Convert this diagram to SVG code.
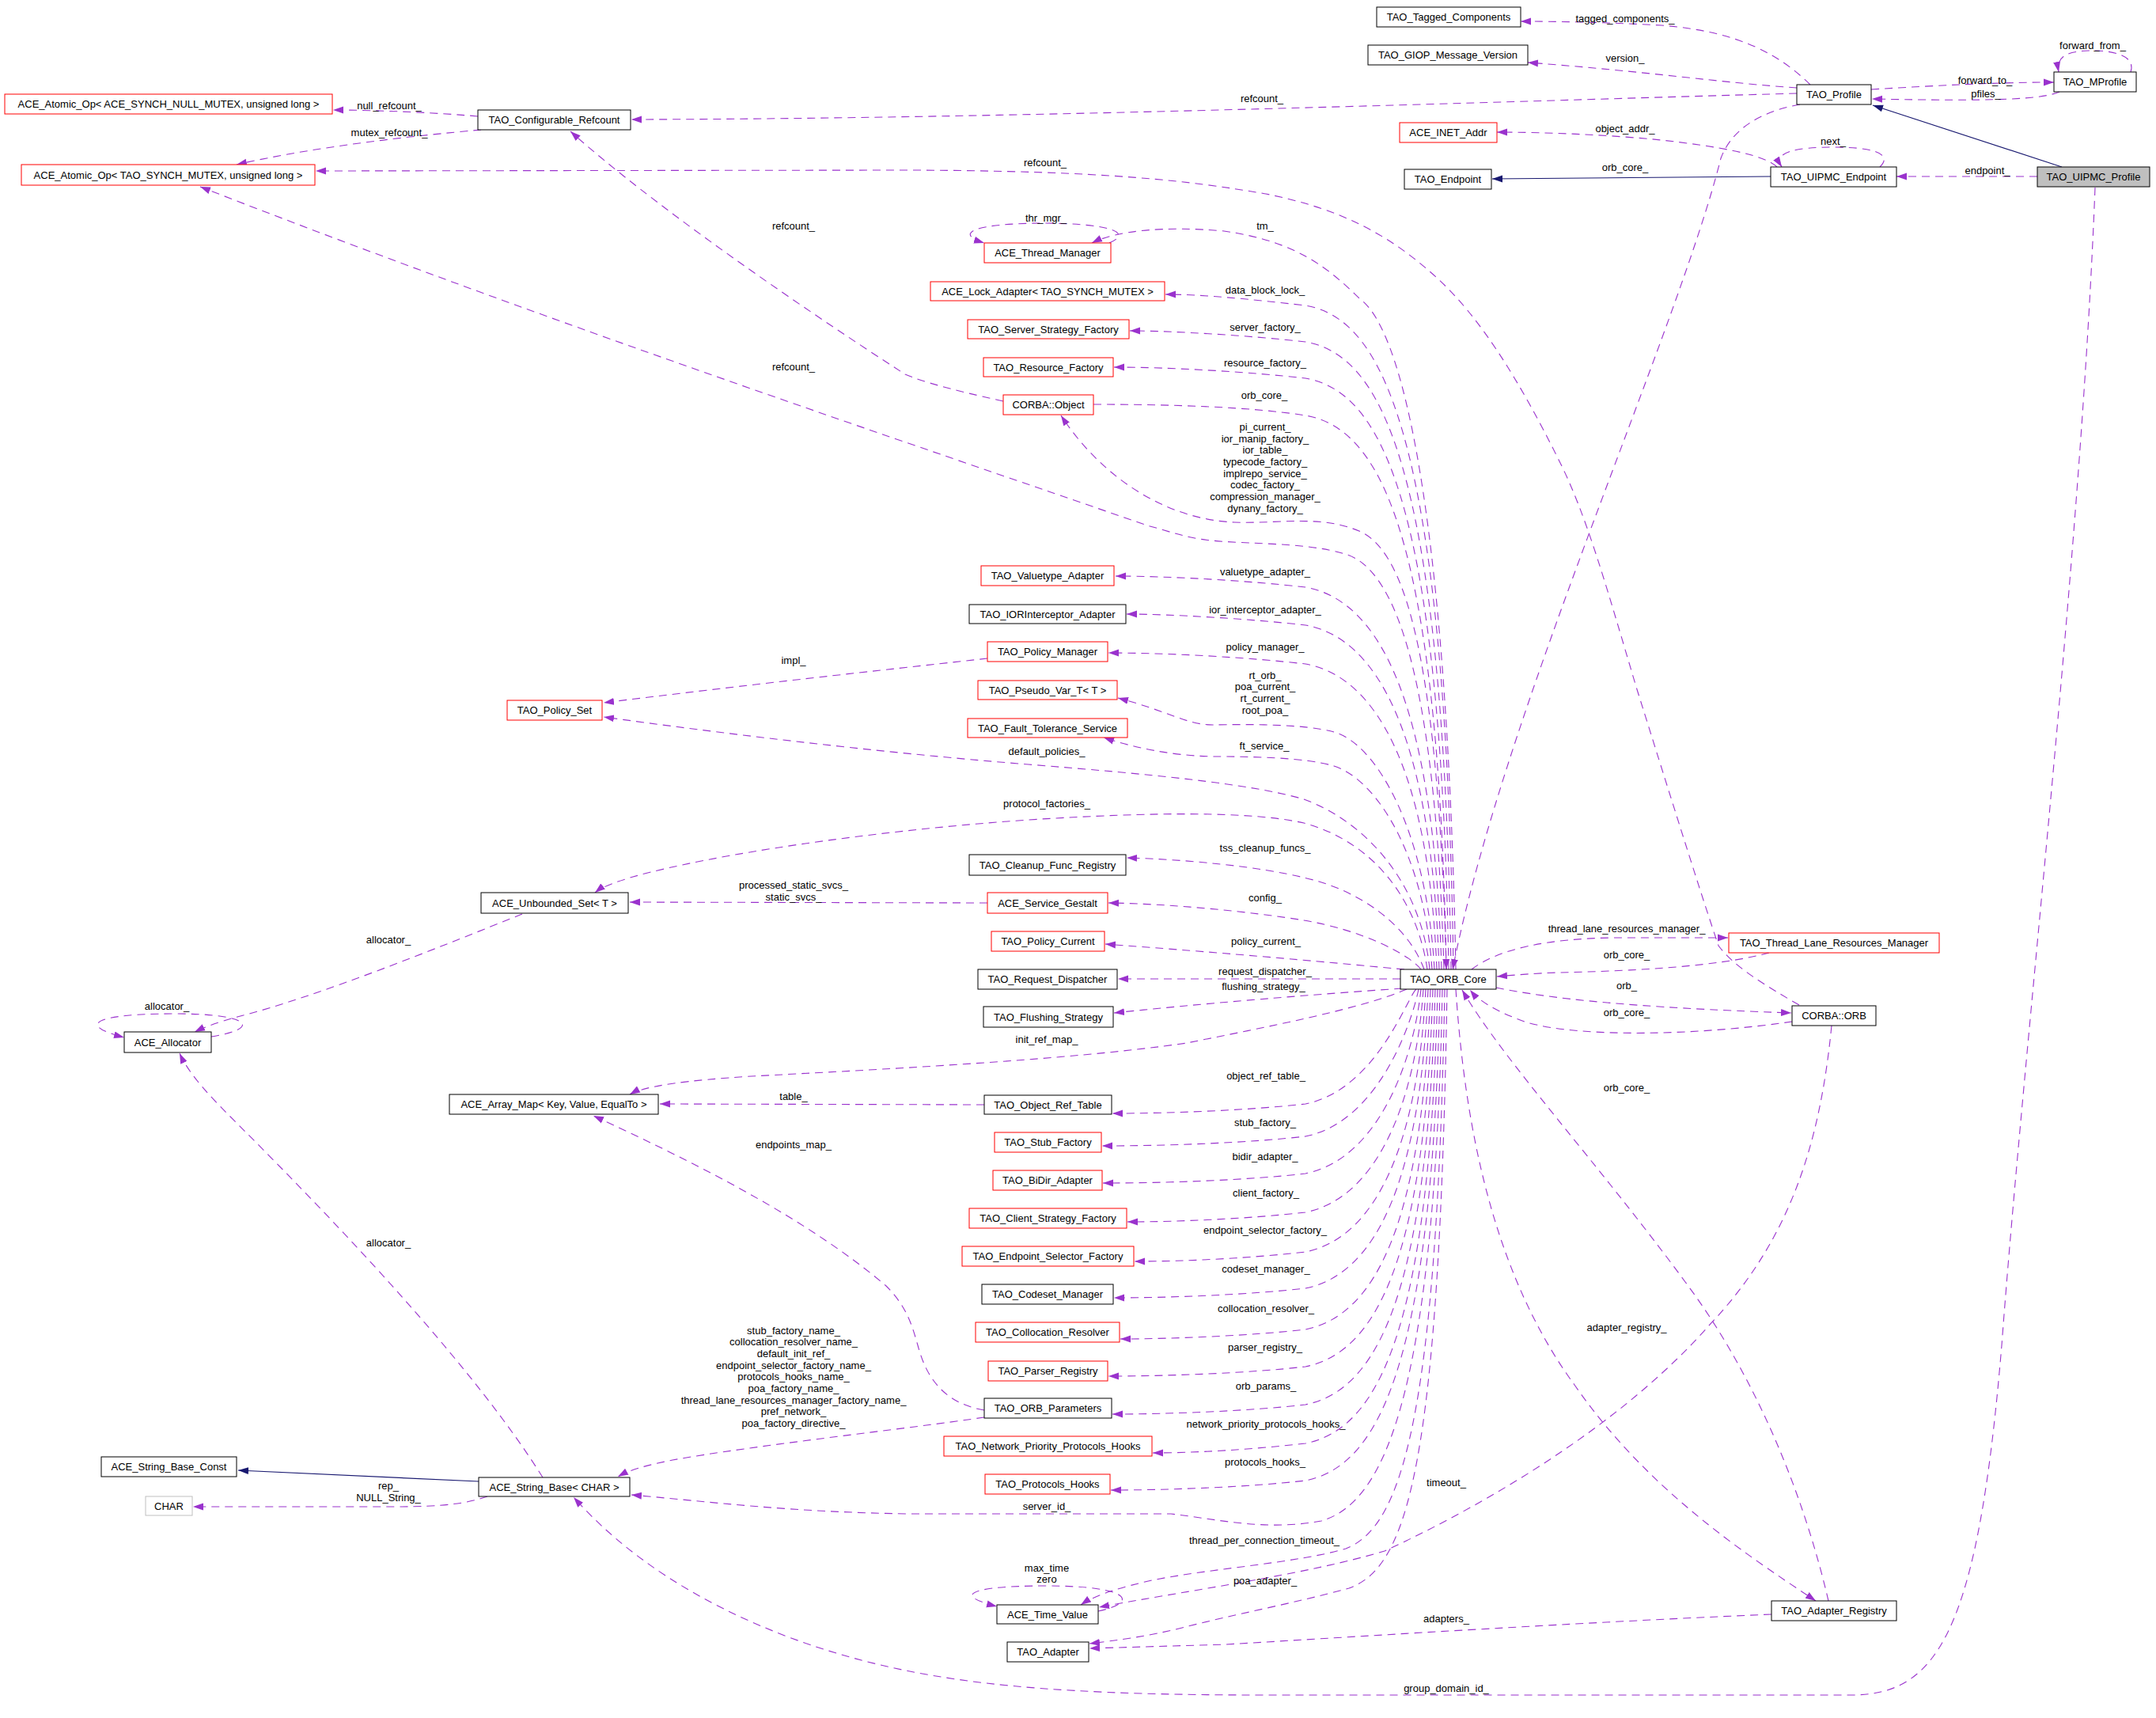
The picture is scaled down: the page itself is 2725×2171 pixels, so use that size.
<svg xmlns="http://www.w3.org/2000/svg" width="2725" height="2171" viewBox="0 0 2725 2171">
<style>
text{font-family:"Liberation Sans",Arial,sans-serif;font-size:13px;fill:#000}
.node text{text-anchor:middle}
.lbl text{text-anchor:middle}
rect{fill:#fff;stroke:#000;stroke-width:1}
rect.red{stroke:#ff0000}
rect.grayfill{fill:#bfbfbf}
rect.grayline{stroke:#bfbfbf}
.e{fill:none;stroke:#9a32cd;stroke-width:1.1;stroke-dasharray:10,7;marker-end:url(#ap)}
.i{fill:none;stroke:#191970;stroke-width:1.2;marker-end:url(#an)}
</style>
<defs>
<marker id="ap" markerUnits="userSpaceOnUse" markerWidth="13" markerHeight="10" refX="13" refY="5" orient="auto"><path d="M0,0.5 L13,5 L0,9.5 z" fill="#9a32cd"/></marker>
<marker id="an" markerUnits="userSpaceOnUse" markerWidth="13" markerHeight="10" refX="13" refY="5" orient="auto"><path d="M0,0.5 L13,5 L0,9.5 z" fill="#191970"/></marker>
</defs>
<rect x="0" y="0" width="2725" height="2171" style="fill:#fff;stroke:none"/>

<g id="connectors">
<path class="i" d="M2606,211 L2367,133"/>
<path class="i" d="M2238,223 L1886,226"/>
<path class="i" d="M605,1872 L301,1858"/>
<path class="e" d="M2288,107 C2250,70 2200,40 2100,32 C2030,28 1960,27 1922,27"/>
<path class="e" d="M2271,111 C2180,105 2080,90 1931,79"/>
<path class="e" d="M2271,118 C1900,128 1300,150 798,151"/>
<path class="e" d="M2365,113 C2450,108 2520,104 2596,104"/>
<path class="e" d="M2603,116 C2580,126 2520,128 2366,125"/>
<path class="e" d="M2693,91 C2700,70 2670,64 2645,64 C2615,64 2598,70 2602,91"/>
<path class="e" d="M2575,223 L2397,223"/>
<path class="e" d="M2376,211 C2395,192 2360,186 2318,186 C2270,186 2240,192 2252,211"/>
<path class="e" d="M2246,211 C2230,195 2170,185 2100,177 C2030,170 1950,167 1892,167"/>
<path class="e" d="M2275,132 C2230,140 2190,160 2175,200 C2120,420 1900,900 1836,1225"/>
<path class="e" d="M604,147 C560,143 480,139 421,139"/>
<path class="e" d="M608,164 C520,172 400,185 299,208"/>
<path class="e" d="M2274,1270 C2230,1245 2190,1220 2172,1195 C2150,1130 2125,1050 2068,868 C2030,740 2005,650 1970,581 C1920,480 1870,400 1816,351 C1760,300 1700,265 1600,245 C1500,228 1400,216 1150,215 L399,216"/>
<path class="e" d="M1268,507 C1200,492 1165,482 1144,473 C1000,380 820,255 721,166"/>
<path class="e" d="M1825,1225 C1815,880 1770,720 1700,700 C1650,685 1580,688 1531,683 C1500,680 1480,672 1450,664 C1150,560 700,410 253,236"/>
<path class="e" d="M1402,307 C1430,295 1410,283 1322,282 C1230,282 1205,295 1244,307"/>
<path class="e" d="M1840,1225 C1830,700 1780,420 1718,377 C1680,340 1640,305 1547,292 C1470,285 1410,292 1380,307"/>
<path class="e" d="M1837,1225 C1827,522 1740,402 1650,386 C1580,378 1520,372 1473,372"/>
<path class="e" d="M1834,1225 C1824,568 1740,448 1650,432 C1580,424 1480,418 1428,418"/>
<path class="e" d="M1831,1225 C1821,614 1740,494 1650,478 C1580,470 1480,464 1408,464"/>
<path class="e" d="M1382,511 C1480,511 1580,514 1650,525 C1740,541 1818,660 1828,1225"/>
<path class="e" d="M1828,1225 C1818,850 1780,700 1720,672 C1670,650 1620,662 1560,660 C1470,656 1390,600 1341,525"/>
<path class="e" d="M1822,1225 C1812,878 1740,758 1650,742 C1580,734 1480,728 1410,728"/>
<path class="e" d="M1819,1225 C1809,926 1740,806 1650,790 C1580,782 1480,776 1424,776"/>
<path class="e" d="M1816,1225 C1806,975 1740,855 1650,839 C1580,831 1480,825 1401,825"/>
<path class="e" d="M1248,832 C1150,843 990,860 763,888"/>
<path class="e" d="M1813,1225 C1803,1050 1740,940 1686,925 C1650,915 1580,915 1533,916 C1500,916 1480,900 1413,882"/>
<path class="e" d="M1810,1225 C1800,1080 1740,985 1686,968 C1650,957 1580,956 1533,956 C1480,955 1430,944 1395,932"/>
<path class="e" d="M1807,1225 C1797,1120 1730,1040 1648,1010 C1580,990 1450,978 1300,966 C1100,950 900,925 763,906"/>
<path class="e" d="M1804,1225 C1790,1130 1730,1062 1648,1040 C1580,1025 1460,1026 1300,1036 C1100,1050 900,1080 800,1108 C780,1114 762,1120 752,1128"/>
<path class="e" d="M1800,1225 C1780,1170 1720,1125 1648,1109 C1590,1095 1500,1086 1424,1084"/>
<path class="e" d="M1248,1141 L796,1140"/>
<path class="e" d="M1796,1225 C1780,1205 1720,1175 1648,1163 C1580,1152 1480,1142 1401,1141"/>
<path class="e" d="M1775,1225 C1720,1220 1600,1208 1397,1193"/>
<path class="e" d="M660,1155 C560,1195 400,1260 300,1285 C275,1292 258,1298 246,1304"/>
<path class="e" d="M267,1310 C330,1300 320,1281 220,1281 C120,1281 95,1295 157,1311"/>
<path class="e" d="M1770,1237 L1413,1237"/>
<path class="e" d="M1772,1249 C1700,1254 1550,1265 1408,1280"/>
<path class="e" d="M1778,1250 C1720,1275 1600,1298 1500,1318 C1350,1340 1100,1352 950,1360 C870,1365 815,1372 796,1383"/>
<path class="e" d="M1790,1250 C1780,1257 1740,1377 1650,1395 C1580,1403 1480,1407 1406,1407"/>
<path class="e" d="M1244,1396 L834,1395"/>
<path class="e" d="M1793,1250 C1783,1298 1740,1418 1650,1436 C1580,1444 1480,1448 1393,1448"/>
<path class="e" d="M1796,1250 C1786,1345 1740,1465 1650,1483 C1580,1491 1480,1495 1394,1495"/>
<path class="e" d="M1799,1250 C1789,1394 1740,1514 1650,1532 C1580,1540 1490,1544 1425,1544"/>
<path class="e" d="M1244,1782 C1185,1772 1168,1730 1160,1700 C1152,1672 1145,1650 1120,1625 C1020,1540 880,1470 750,1410"/>
<path class="e" d="M1802,1250 C1792,1444 1740,1564 1650,1582 C1580,1590 1500,1594 1434,1594"/>
<path class="e" d="M1805,1250 C1795,1490 1740,1610 1650,1628 C1580,1636 1480,1640 1408,1640"/>
<path class="e" d="M1808,1250 C1798,1542 1740,1662 1650,1680 C1580,1688 1480,1692 1416,1692"/>
<path class="e" d="M1811,1250 C1801,1589 1740,1709 1650,1727 C1580,1735 1480,1739 1401,1739"/>
<path class="e" d="M1814,1250 C1804,1637 1740,1757 1650,1775 C1580,1783 1480,1787 1406,1787"/>
<path class="e" d="M1244,1791 C1150,1805 950,1827 850,1845 C815,1852 795,1858 781,1866"/>
<path class="e" d="M1817,1250 C1807,1686 1740,1806 1650,1824 C1580,1832 1510,1836 1457,1836"/>
<path class="e" d="M1820,1250 C1810,1733 1740,1853 1650,1871 C1580,1879 1480,1883 1404,1883"/>
<path class="e" d="M1823,1250 C1813,1780 1745,1900 1670,1922 C1600,1935 1540,1920 1480,1913 L1150,1913 C1000,1911 900,1898 798,1889"/>
<path class="e" d="M686,1867 C600,1730 440,1560 300,1420 C270,1390 240,1360 227,1331"/>
<path class="e" d="M616,1891 C590,1900 560,1904 500,1904 L244,1904"/>
<path class="e" d="M1826,1250 C1816,1800 1770,1930 1701,1957 C1640,1975 1530,1982 1456,1997 C1420,2005 1385,2015 1366,2028"/>
<path class="e" d="M1388,2036 C1440,2025 1430,2004 1322,2004 C1230,2004 1200,2015 1260,2030"/>
<path class="e" d="M1829,1250 C1819,1850 1780,1980 1705,2007 C1640,2025 1560,2040 1494,2057 C1450,2068 1410,2073 1377,2077"/>
<path class="e" d="M2239,2040 C2000,2050 1750,2066 1550,2078 L1377,2083"/>
<path class="e" d="M2648,237 C2630,700 2560,1300 2530,1700 C2500,2060 2450,2142 2340,2142 L1600,2142 C1300,2142 1150,2125 1000,2070 C880,2025 790,1965 725,1892"/>
<path class="e" d="M2315,1296 C2300,1450 2260,1570 2160,1675 C2050,1800 1880,1900 1750,1960 C1650,1990 1500,2010 1389,2031"/>
<path class="e" d="M1860,1225 C1895,1198 1960,1186 2040,1185 L2184,1185"/>
<path class="e" d="M2236,1204 C2170,1222 2060,1227 1970,1229 C1940,1230 1915,1232 1892,1234"/>
<path class="e" d="M1891,1248 C1960,1262 2060,1273 2264,1280"/>
<path class="e" d="M2265,1291 C2150,1308 2000,1312 1930,1292 C1895,1280 1870,1266 1858,1251"/>
<path class="e" d="M2311,2023 C2280,1890 2220,1740 2130,1620 C2020,1470 1900,1340 1848,1251"/>
<path class="e" d="M1840,1250 C1850,1400 1880,1600 1990,1750 C2080,1880 2200,1960 2295,2023"/>
</g>

<g id="edge-labels" class="lbl">
<text x="2054" y="28">tagged_components_</text>
<text x="2054" y="78">version_</text>
<text x="1595" y="129">refcount_</text>
<text x="2509" y="106">forward_to_</text>
<text x="2510" y="123">pfiles_</text>
<text x="2645" y="62">forward_from_</text>
<text x="2054" y="167">object_addr_</text>
<text x="2317" y="183">next_</text>
<text x="2054" y="216">orb_core_</text>
<text x="2512" y="220">endpoint_</text>
<text x="492" y="138">null_refcount_</text>
<text x="492" y="172">mutex_refcount_</text>
<text x="1321" y="210">refcount_</text>
<text x="1003" y="290">refcount_</text>
<text x="1003" y="468">refcount_</text>
<text x="1322" y="280">thr_mgr_</text>
<text x="1599" y="290">tm_</text>
<text x="1599" y="371">data_block_lock_</text>
<text x="1599" y="418">server_factory_</text>
<text x="1599" y="463">resource_factory_</text>
<text x="1598" y="504">orb_core_</text>
<text x="1599" y="544">pi_current_</text>
<text x="1599" y="559">ior_manip_factory_</text>
<text x="1599" y="573">ior_table_</text>
<text x="1599" y="588">typecode_factory_</text>
<text x="1599" y="603">implrepo_service_</text>
<text x="1599" y="617">codec_factory_</text>
<text x="1599" y="632">compression_manager_</text>
<text x="1599" y="647">dynany_factory_</text>
<text x="1599" y="727">valuetype_adapter_</text>
<text x="1599" y="775">ior_interceptor_adapter_</text>
<text x="1599" y="822">policy_manager_</text>
<text x="1003" y="839">impl_</text>
<text x="1599" y="858">rt_orb_</text>
<text x="1599" y="872">poa_current_</text>
<text x="1599" y="887">rt_current_</text>
<text x="1599" y="902">root_poa_</text>
<text x="1598" y="947">ft_service_</text>
<text x="1323" y="954">default_policies_</text>
<text x="1323" y="1020">protocol_factories_</text>
<text x="1599" y="1076">tss_cleanup_funcs_</text>
<text x="1003" y="1123">processed_static_svcs_</text>
<text x="1003" y="1138">static_svcs_</text>
<text x="1599" y="1139">config_</text>
<text x="1600" y="1194">policy_current_</text>
<text x="491" y="1192">allocator_</text>
<text x="211" y="1276">allocator_</text>
<text x="1599" y="1232">request_dispatcher_</text>
<text x="1597" y="1251">flushing_strategy_</text>
<text x="2056" y="1178">thread_lane_resources_manager_</text>
<text x="2056" y="1211">orb_core_</text>
<text x="2056" y="1250">orb_</text>
<text x="2056" y="1284">orb_core_</text>
<text x="1323" y="1318">init_ref_map_</text>
<text x="1600" y="1364">object_ref_table_</text>
<text x="2056" y="1379">orb_core_</text>
<text x="1003" y="1390">table_</text>
<text x="1599" y="1423">stub_factory_</text>
<text x="1003" y="1451">endpoints_map_</text>
<text x="1599" y="1466">bidir_adapter_</text>
<text x="1600" y="1512">client_factory_</text>
<text x="1599" y="1559">endpoint_selector_factory_</text>
<text x="491" y="1575">allocator_</text>
<text x="1600" y="1608">codeset_manager_</text>
<text x="1600" y="1658">collocation_resolver_</text>
<text x="2056" y="1682">adapter_registry_</text>
<text x="1003" y="1686">stub_factory_name_</text>
<text x="1003" y="1700">collocation_resolver_name_</text>
<text x="1003" y="1715">default_init_ref_</text>
<text x="1003" y="1730">endpoint_selector_factory_name_</text>
<text x="1003" y="1744">protocols_hooks_name_</text>
<text x="1003" y="1759">poa_factory_name_</text>
<text x="1003" y="1774">thread_lane_resources_manager_factory_name_</text>
<text x="1003" y="1788">pref_network_</text>
<text x="1003" y="1803">poa_factory_directive_</text>
<text x="1599" y="1707">parser_registry_</text>
<text x="1600" y="1756">orb_params_</text>
<text x="1600" y="1804">network_priority_protocols_hooks_</text>
<text x="1599" y="1852">protocols_hooks_</text>
<text x="1828" y="1878">timeout_</text>
<text x="491" y="1882">rep_</text>
<text x="491" y="1897">NULL_String_</text>
<text x="1323" y="1908">server_id_</text>
<text x="1598" y="1951">thread_per_connection_timeout_</text>
<text x="1323" y="1986">max_time</text>
<text x="1323" y="2000">zero</text>
<text x="1599" y="2002">poa_adapter_</text>
<text x="1828" y="2050">adapters_</text>
<text x="1828" y="2138">group_domain_id_</text>
</g>

<g id="n_TAO_UIPMC_Profile" class="node"><rect class="grayfill" x="2575" y="211" width="142" height="25"/><text x="2646" y="228">TAO_UIPMC_Profile</text></g>
<g id="n_TAO_Profile" class="node"><rect x="2271" y="107" width="94" height="25"/><text x="2318" y="124">TAO_Profile</text></g>
<g id="n_TAO_Tagged_Components" class="node"><rect x="1740" y="9" width="182" height="25"/><text x="1831" y="26">TAO_Tagged_Components</text></g>
<g id="n_TAO_GIOP_Message_Version" class="node"><rect x="1729" y="57" width="202" height="25"/><text x="1830" y="74">TAO_GIOP_Message_Version</text></g>
<g id="n_TAO_MProfile" class="node"><rect x="2596" y="91" width="104" height="25"/><text x="2648" y="108">TAO_MProfile</text></g>
<g id="n_ACE_INET_Addr" class="node"><rect class="red" x="1769" y="155" width="123" height="25"/><text x="1830.5" y="172">ACE_INET_Addr</text></g>
<g id="n_TAO_Endpoint" class="node"><rect x="1775" y="214" width="110" height="25"/><text x="1830" y="231">TAO_Endpoint</text></g>
<g id="n_TAO_UIPMC_Endpoint" class="node"><rect x="2238" y="211" width="159" height="25"/><text x="2317.5" y="228">TAO_UIPMC_Endpoint</text></g>
<g id="n_ACE_Atomic_Op_NULL" class="node"><rect class="red" x="6" y="119" width="414" height="25"/><text x="213" y="136">ACE_Atomic_Op&lt; ACE_SYNCH_NULL_MUTEX, unsigned long &gt;</text></g>
<g id="n_TAO_Configurable_Refcount" class="node"><rect x="604" y="139" width="193" height="25"/><text x="700.5" y="156">TAO_Configurable_Refcount</text></g>
<g id="n_ACE_Atomic_Op_TAO" class="node"><rect class="red" x="27" y="208" width="371" height="26"/><text x="212.5" y="225.5">ACE_Atomic_Op&lt; TAO_SYNCH_MUTEX, unsigned long &gt;</text></g>
<g id="n_ACE_Thread_Manager" class="node"><rect class="red" x="1244" y="307" width="160" height="25"/><text x="1324" y="324">ACE_Thread_Manager</text></g>
<g id="n_ACE_Lock_Adapter" class="node"><rect class="red" x="1176" y="356" width="296" height="24"/><text x="1324" y="372.5">ACE_Lock_Adapter&lt; TAO_SYNCH_MUTEX &gt;</text></g>
<g id="n_TAO_Server_Strategy_Factory" class="node"><rect class="red" x="1223" y="404" width="204" height="24"/><text x="1325" y="420.5">TAO_Server_Strategy_Factory</text></g>
<g id="n_TAO_Resource_Factory" class="node"><rect class="red" x="1243" y="452" width="164" height="24"/><text x="1325" y="468.5">TAO_Resource_Factory</text></g>
<g id="n_CORBA_Object" class="node"><rect class="red" x="1268" y="499" width="114" height="25"/><text x="1325" y="516">CORBA::Object</text></g>
<g id="n_TAO_Valuetype_Adapter" class="node"><rect class="red" x="1240" y="715" width="168" height="25"/><text x="1324" y="732">TAO_Valuetype_Adapter</text></g>
<g id="n_TAO_IORInterceptor_Adapter" class="node"><rect x="1225" y="764" width="198" height="24"/><text x="1324" y="780.5">TAO_IORInterceptor_Adapter</text></g>
<g id="n_TAO_Policy_Manager" class="node"><rect class="red" x="1248" y="811" width="152" height="25"/><text x="1324" y="828">TAO_Policy_Manager</text></g>
<g id="n_TAO_Pseudo_Var_T" class="node"><rect class="red" x="1236" y="860" width="176" height="24"/><text x="1324" y="876.5">TAO_Pseudo_Var_T&lt; T &gt;</text></g>
<g id="n_TAO_Fault_Tolerance_Service" class="node"><rect class="red" x="1223" y="908" width="202" height="24"/><text x="1324" y="924.5">TAO_Fault_Tolerance_Service</text></g>
<g id="n_TAO_Policy_Set" class="node"><rect class="red" x="641" y="885" width="120" height="25"/><text x="701" y="902">TAO_Policy_Set</text></g>
<g id="n_TAO_Cleanup_Func_Registry" class="node"><rect x="1225" y="1080" width="198" height="26"/><text x="1324" y="1097.5">TAO_Cleanup_Func_Registry</text></g>
<g id="n_ACE_Service_Gestalt" class="node"><rect class="red" x="1248" y="1128" width="152" height="26"/><text x="1324" y="1145.5">ACE_Service_Gestalt</text></g>
<g id="n_ACE_Unbounded_Set" class="node"><rect x="608" y="1128" width="186" height="26"/><text x="701" y="1145.5">ACE_Unbounded_Set&lt; T &gt;</text></g>
<g id="n_TAO_Policy_Current" class="node"><rect class="red" x="1253" y="1177" width="143" height="25"/><text x="1324.5" y="1194">TAO_Policy_Current</text></g>
<g id="n_TAO_Request_Dispatcher" class="node"><rect x="1236" y="1225" width="176" height="25"/><text x="1324" y="1242">TAO_Request_Dispatcher</text></g>
<g id="n_TAO_ORB_Core" class="node"><rect x="1770" y="1225" width="121" height="25"/><text x="1830.5" y="1242">TAO_ORB_Core</text></g>
<g id="n_TAO_Thread_Lane_Resources_Manager" class="node"><rect class="red" x="2185" y="1179" width="266" height="25"/><text x="2318" y="1196">TAO_Thread_Lane_Resources_Manager</text></g>
<g id="n_CORBA_ORB" class="node"><rect x="2265" y="1271" width="106" height="25"/><text x="2318" y="1288">CORBA::ORB</text></g>
<g id="n_ACE_Allocator" class="node"><rect x="157" y="1304" width="110" height="26"/><text x="212" y="1321.5">ACE_Allocator</text></g>
<g id="n_TAO_Flushing_Strategy" class="node"><rect x="1243" y="1272" width="164" height="26"/><text x="1325" y="1289.5">TAO_Flushing_Strategy</text></g>
<g id="n_ACE_Array_Map" class="node"><rect x="568" y="1383" width="264" height="25"/><text x="700" y="1400">ACE_Array_Map&lt; Key, Value, EqualTo &gt;</text></g>
<g id="n_TAO_Object_Ref_Table" class="node"><rect x="1244" y="1384" width="161" height="24"/><text x="1324.5" y="1400.5">TAO_Object_Ref_Table</text></g>
<g id="n_TAO_Stub_Factory" class="node"><rect class="red" x="1257" y="1431" width="135" height="25"/><text x="1324.5" y="1448">TAO_Stub_Factory</text></g>
<g id="n_TAO_BiDir_Adapter" class="node"><rect class="red" x="1255" y="1479" width="138" height="25"/><text x="1324" y="1496">TAO_BiDir_Adapter</text></g>
<g id="n_TAO_Client_Strategy_Factory" class="node"><rect class="red" x="1225" y="1527" width="199" height="25"/><text x="1324.5" y="1544">TAO_Client_Strategy_Factory</text></g>
<g id="n_TAO_Endpoint_Selector_Factory" class="node"><rect class="red" x="1216" y="1575" width="217" height="25"/><text x="1324.5" y="1592">TAO_Endpoint_Selector_Factory</text></g>
<g id="n_TAO_Codeset_Manager" class="node"><rect x="1241" y="1623" width="166" height="25"/><text x="1324" y="1640">TAO_Codeset_Manager</text></g>
<g id="n_TAO_Collocation_Resolver" class="node"><rect class="red" x="1233" y="1671" width="182" height="25"/><text x="1324" y="1688">TAO_Collocation_Resolver</text></g>
<g id="n_TAO_Parser_Registry" class="node"><rect class="red" x="1249" y="1720" width="151" height="25"/><text x="1324.5" y="1737">TAO_Parser_Registry</text></g>
<g id="n_TAO_ORB_Parameters" class="node"><rect x="1244" y="1767" width="161" height="25"/><text x="1324.5" y="1784">TAO_ORB_Parameters</text></g>
<g id="n_TAO_Network_Priority_Protocols_Hooks" class="node"><rect class="red" x="1193" y="1815" width="263" height="25"/><text x="1324.5" y="1832">TAO_Network_Priority_Protocols_Hooks</text></g>
<g id="n_TAO_Protocols_Hooks" class="node"><rect class="red" x="1245" y="1863" width="158" height="25"/><text x="1324" y="1880">TAO_Protocols_Hooks</text></g>
<g id="n_ACE_String_Base_Const" class="node"><rect x="128" y="1841" width="171" height="25"/><text x="213.5" y="1858">ACE_String_Base_Const</text></g>
<g id="n_ACE_String_Base" class="node"><rect x="605" y="1867" width="191" height="24"/><text x="700.5" y="1883.5">ACE_String_Base&lt; CHAR &gt;</text></g>
<g id="n_CHAR" class="node"><rect class="grayline" x="184" y="1891" width="59" height="24"/><text x="213.5" y="1907.5">CHAR</text></g>
<g id="n_ACE_Time_Value" class="node"><rect x="1260" y="2028" width="128" height="24"/><text x="1324" y="2044.5">ACE_Time_Value</text></g>
<g id="n_TAO_Adapter" class="node"><rect x="1273" y="2075" width="103" height="25"/><text x="1324.5" y="2092">TAO_Adapter</text></g>
<g id="n_TAO_Adapter_Registry" class="node"><rect x="2239" y="2023" width="158" height="25"/><text x="2318" y="2040">TAO_Adapter_Registry</text></g>
</svg>
